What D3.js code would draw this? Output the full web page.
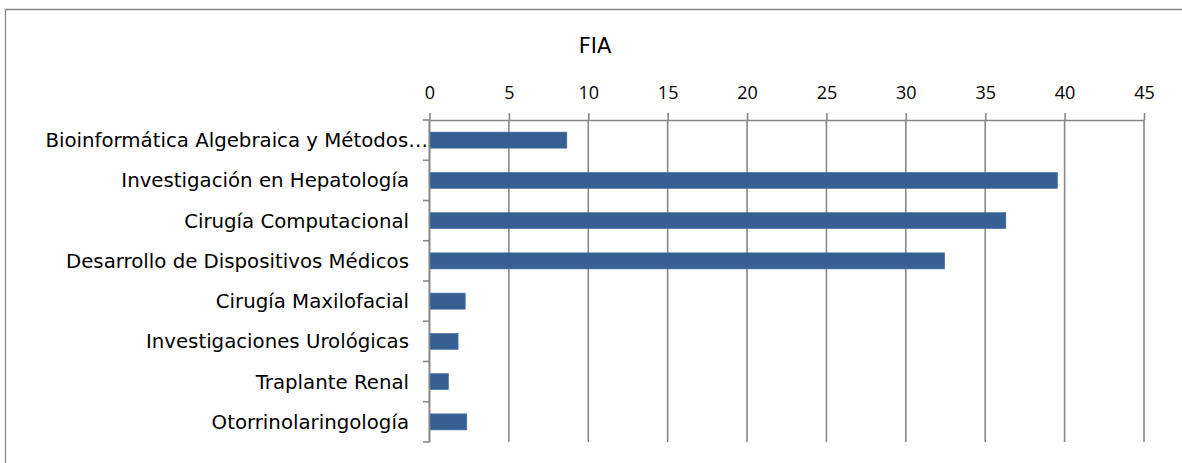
<!DOCTYPE html>
<html><head><meta charset="utf-8">
<script src="https://cdn.jsdelivr.net/npm/d3@7"></script>
<style>body{margin:0;background:#fff}svg{display:block}</style>
</head><body>
<svg id="c" width="1182" height="463"></svg>
<script>
const title = "FIA";
const categories = [
  "Bioinformática Algebraica y Métodos…",
  "Investigación en Hepatología",
  "Cirugía Computacional",
  "Desarrollo de Dispositivos Médicos",
  "Cirugía Maxilofacial",
  "Investigaciones Urológicas",
  "Traplante Renal",
  "Otorrinolaringología"
];
const values = [8.65, 39.55, 36.3, 32.45, 2.25, 1.8, 1.2, 2.35];
const tickValues = [0, 5, 10, 15, 20, 25, 30, 35, 40, 45];

const svg = d3.select("#c");
const gray = "#888888";
const labelFont = "DejaVu Sans";

// frame
svg.append("path").attr("d", "M5.5,463 L5.5,9.5 L1182,9.5")
  .attr("fill", "none").attr("stroke", gray).attr("stroke-width", 1.3);

const x = d3.scaleLinear().domain([0, 45]).range([429.5, 1144]);
const y = d3.scaleBand().domain(categories).range([120, 442]).paddingInner(0.6).paddingOuter(0.3);

// gridlines
svg.append("g").selectAll("line").data(tickValues).join("line")
  .attr("x1", d => x(d)).attr("x2", d => x(d))
  .attr("y1", 120).attr("y2", 442)
  .attr("stroke", gray).attr("stroke-width", 1.6);

// top axis
const ax = svg.append("g").attr("transform", "translate(0,120)")
  .call(d3.axisTop(x).tickValues(tickValues).tickSize(7).tickSizeOuter(0).tickPadding(14));
ax.select(".domain").attr("stroke", gray).attr("stroke-width", 1.6);
ax.selectAll(".tick line").attr("stroke", gray).attr("stroke-width", 1.6);
ax.selectAll(".tick text").attr("font-family", "Open Sans").attr("font-size", 18).attr("fill", "#000");

// bars
svg.append("g").selectAll("rect").data(values).join("rect")
  .attr("x", x(0)).attr("y", (d, i) => y(categories[i]))
  .attr("width", d => x(d) - x(0)).attr("height", y.bandwidth())
  .attr("fill", "#366092").attr("stroke", "#4a74a8").attr("stroke-width", 0.6);

// left axis
const bounds = categories.map(c => y(c) - y.step() * y.paddingInner() / 2).concat([442]);
svg.append("line").attr("x1", 429.5).attr("x2", 429.5).attr("y1", 120).attr("y2", 442)
  .attr("stroke", gray).attr("stroke-width", 1.6);
svg.append("g").selectAll("line").data(bounds).join("line")
  .attr("x1", 423).attr("x2", 429.5).attr("y1", d => d).attr("y2", d => d)
  .attr("stroke", gray).attr("stroke-width", 1.6);

// fit label font size so "Desarrollo..." is ~343px wide
const probe = svg.append("text").attr("font-family", labelFont).attr("font-size", 100)
  .text(categories[3]);
const w100 = probe.node().getComputedTextLength();
probe.remove();
const fs = 343 / w100 * 100;

svg.append("g").selectAll("text").data(categories).join("text")
  .attr("x", (d, i) => i === 0 ? 428 : 409)
  .attr("y", d => y(d) + y.bandwidth() / 2)
  .attr("dy", "0.36em")
  .attr("text-anchor", "end")
  .attr("font-family", labelFont).attr("font-size", fs).attr("fill", "#000")
  .text(d => d);

// title
svg.append("text").attr("x", 595).attr("y", 53).attr("text-anchor", "middle")
  .attr("font-family", labelFont).attr("font-size", 21).attr("fill", "#000").text(title);
</script>
</body></html>
